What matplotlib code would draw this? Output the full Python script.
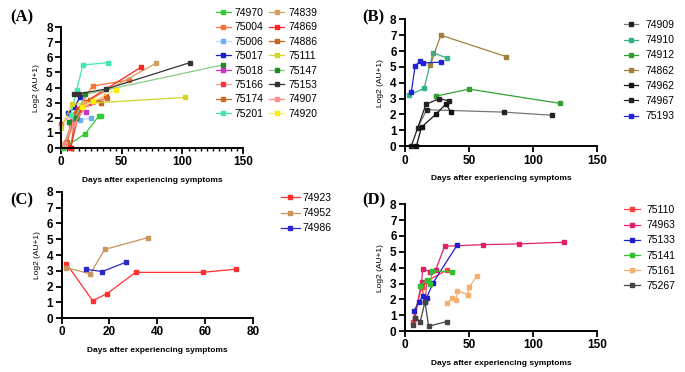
import matplotlib.pyplot as plt
from matplotlib.ticker import MultipleLocator

# ---- data ----
ids_a = ['74970', '75004', '75006', '75017', '75018', '75166', '75174', '75201',
         '74839', '74869', '74886', '75111', '75147', '75153', '74907', '74920']
days_a = [[2, 20, 31, 33],
          [3, 8, 14, 26, 56],
          [4, 10, 16, 25],
          [6, 11, 16],
          [9, 13, 16, 21],
          [0, 9, 14, 23, 37],
          [8, 12, 20, 38],
          [8, 13, 18, 39],
          [2, 10, 24, 78],
          [7, 8, 15, 20, 66],
          [5, 13, 24, 33],
          [0, 9, 20, 102],
          [7, 12, 20, 133],
          [11, 15, 37, 106],
          [3, 11, 21, 26],
          [17, 26, 45]]
vals_a = [[0.0, 0.95, 2.1, 2.15],
          [0.3, 1.5, 2.6, 4.1, 4.5],
          [0.4, 1.8, 1.85, 2.0],
          [2.3, 2.7, 3.4],
          [1.8, 2.1, 2.6, 2.4],
          [1.6, 2.2, 2.6, 3.0, 3.45],
          [0.0, 2.3, 2.9, 3.3],
          [2.2, 3.85, 5.5, 5.65],
          [0.3, 1.5, 3.2, 5.6],
          [0.1, 0.0, 2.5, 3.05, 5.35],
          [0.4, 2.4, 3.2, 3.0],
          [1.3, 2.9, 2.95, 3.35],
          [1.7, 2.0, 3.55, 5.5],
          [3.55, 3.6, 3.9, 5.65],
          [0.3, 1.6, 2.9, 3.05],
          [2.7, 3.1, 3.85]]

ids_b = ['74909', '74910', '74912', '74862', '74962', '74967', '75193']
days_b = [[10, 17, 77, 115],
          [3, 15, 22, 33],
          [24, 50, 121],
          [20, 28, 79],
          [9, 13, 24, 32, 36],
          [5, 16.5, 27, 34.5],
          [5, 8, 12, 14, 28]]
vals_b = [[1.15, 2.3, 2.15, 1.95],
          [3.2, 3.65, 5.9, 5.55],
          [3.15, 3.6, 2.7],
          [5.15, 7.0, 5.65],
          [0.0, 1.2, 2.0, 2.65, 2.15],
          [0.0, 2.65, 3.0, 2.85],
          [3.4, 5.05, 5.4, 5.25, 5.3]]

ids_c = ['74923', '74952', '74986']
days_c = [[2, 13, 19, 31, 59, 73],
          [2, 12, 18, 36],
          [10, 17, 27]]
vals_c = [[3.45, 1.1, 1.55, 2.9, 2.9, 3.1],
          [3.2, 2.8, 4.35, 5.1],
          [3.1, 2.95, 3.55]]

ids_d = ['75110', '74963', '75133', '75141', '75161', '75267']
days_d = [[6, 13, 16, 17, 33],
          [8, 13, 14, 20, 24, 31, 61, 89, 124],
          [7, 11, 14, 16, 17, 22, 41],
          [12, 17, 20, 21, 37],
          [33, 37, 40, 41, 49, 50, 56],
          [6, 8, 12, 15.7, 18.5, 32.5]]
vals_d = [[0.55, 2.75, 1.9, 3.15, 3.85],
          [0.85, 3.1, 3.9, 3.75, 3.85, 5.35, 5.45, 5.5, 5.6],
          [1.25, 1.85, 2.2, 1.85, 2.1, 3.05, 5.45],
          [2.85, 3.2, 3.0, 3.8, 3.75],
          [1.75, 2.1, 1.95, 2.55, 2.3, 2.75, 3.45],
          [0.4, 0.85, 0.6, 1.85, 0.3, 0.6]]

# ---- styles ----
marker_a = ['#33cc33', '#ff7033', '#6aaeff', '#1c1cc8', '#cc33cc', '#ff3333', '#cc6a22', '#40e8b0',
            '#d4a060', '#ff2020', '#c86420', '#d4d42a', '#1f8c1f', '#333333', '#ff8a8a', '#ffee00']
line_a = ['#33cc33', '#ff7033', '#b8d8ff', '#1c1cc8', '#cc33cc', '#ff9999', '#cc6a22', '#40e8b0',
          '#d4a060', '#ff2020', '#c86420', '#d4d42a', '#88cc88', '#333333', '#ff8a8a', '#f0f070']
marker_b = ['#222222', '#33b38a', '#33a033', '#a08040', '#111111', '#222222', '#2020dd']
line_b = ['#777777', '#33b38a', '#33a033', '#a08040', '#111111', '#222222', '#2020dd']
colors_c = ['#ff3030', '#c8955a', '#2a2acc']
colors_d = ['#ff4040', '#e0206a', '#2020cc', '#30c030', '#f5b070', '#444444']

plt.rcParams['font.family'] = ['Liberation Sans', 'DejaVu Sans']

fig = plt.figure(figsize=(6.85, 3.72), dpi=100)


def panel(rect, ids, days, vals, mcols, lcols, xmax, xstep, minor=None):
    ax = fig.add_axes(rect)
    for i in range(len(ids)):
        ax.plot(days[i], vals[i], color=lcols[i], lw=0.9, marker='s', ms=2.2,
                mfc=mcols[i], mec=mcols[i], label=ids[i], clip_on=False)
    ax.set_xlim(0, xmax)
    ax.set_ylim(0, 8)
    ax.xaxis.set_major_locator(MultipleLocator(xstep))
    if minor:
        ax.xaxis.set_minor_locator(MultipleLocator(minor))
    ax.yaxis.set_major_locator(MultipleLocator(1))
    for s in ['top', 'right']:
        ax.spines[s].set_visible(False)
    for s in ['left', 'bottom']:
        ax.spines[s].set_linewidth(1.4)
    ax.tick_params(which='major', length=4, width=1.3, labelsize=8.5, pad=2)
    ax.tick_params(which='minor', length=2.5, width=1.0)
    for t in ax.get_xticklabels() + ax.get_yticklabels():
        t.set_fontweight('bold')
    ax.set_xlabel('Days after experiencing symptoms', fontsize=6, fontweight='bold', labelpad=6)
    ax.set_ylabel('Log2 (AU+1)', fontsize=6, labelpad=4)
    return ax


ax_a = panel([0.089, 0.602, 0.266, 0.325], ids_a, days_a, vals_a, marker_a, line_a, 150, 50, 5)
ax_b = panel([0.591, 0.607, 0.281, 0.341], ids_b, days_b, vals_b, marker_b, line_b, 150, 50)
ax_c = panel([0.090, 0.145, 0.279, 0.339], ids_c, days_c, vals_c, colors_c, colors_c, 80, 20)
ax_d = panel([0.591, 0.110, 0.281, 0.341], ids_d, days_d, vals_d, colors_d, colors_d, 150, 50)

leg_kw = dict(frameon=False, borderpad=0, borderaxespad=0, fontsize=7.5,
              bbox_transform=fig.transFigure, loc='upper left')
ax_a.legend(ncol=2, bbox_to_anchor=(216 / 685, 1 - 8 / 372), handlelength=1.4,
            handletextpad=0.4, columnspacing=0.55, labelspacing=0.42, **leg_kw)
ax_b.legend(bbox_to_anchor=(624 / 685, 1 - 20 / 372), handlelength=1.3,
            handletextpad=0.8, labelspacing=0.5, **leg_kw)
ax_c.legend(bbox_to_anchor=(281 / 685, 1 - 193 / 372), handlelength=1.8,
            handletextpad=0.3, labelspacing=0.5, **leg_kw)
ax_d.legend(bbox_to_anchor=(624 / 685, 1 - 205 / 372), handlelength=1.5,
            handletextpad=0.7, labelspacing=0.5, **leg_kw)

for lab, x, y in [('(A)', 10, 17), ('(B)', 362, 17), ('(C)', 10, 200), ('(D)', 362, 200)]:
    fig.text(x / 685, 1 - y / 372, lab, fontsize=12, fontweight='bold',
             family=['Liberation Serif', 'DejaVu Serif'], va='center', ha='left')

fig.savefig('out.png', dpi=100)
